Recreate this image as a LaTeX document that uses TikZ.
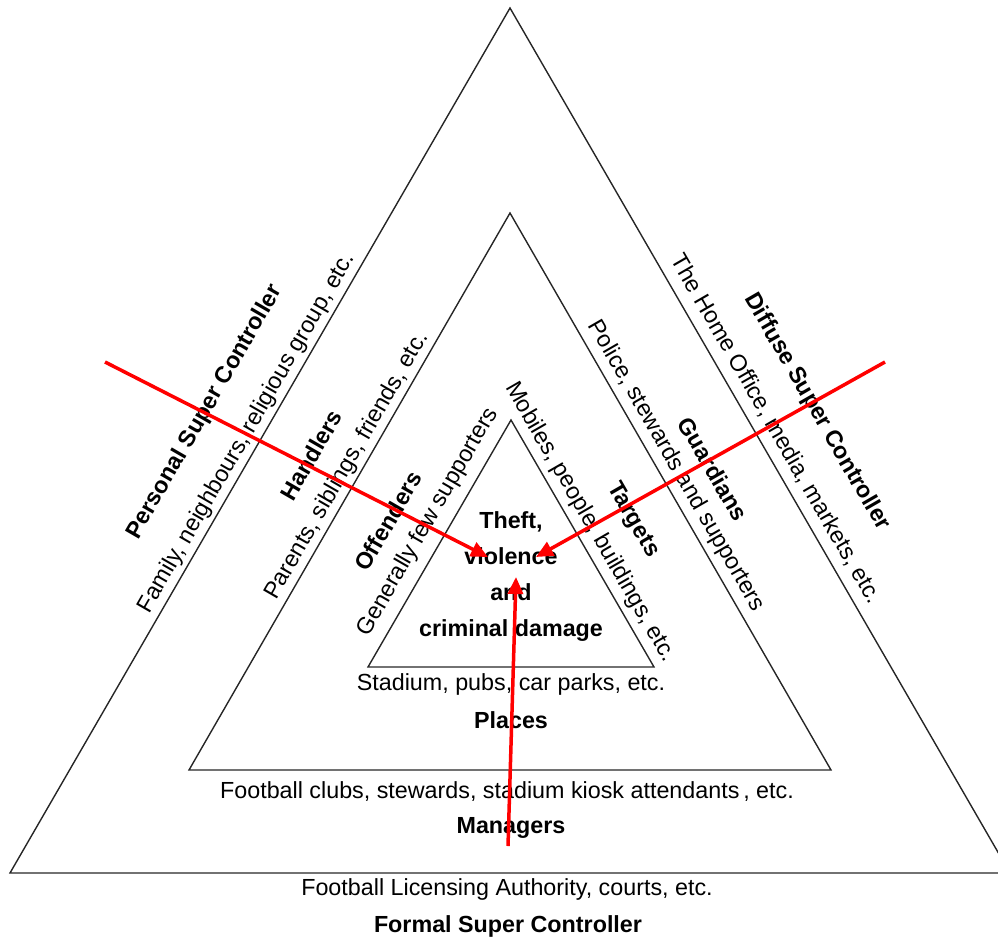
\documentclass[tikz,border=0pt]{standalone}
\usepackage{fontspec}
\setmainfont{Liberation Sans}
\usetikzlibrary{arrows.meta}
\begin{document}
\begin{tikzpicture}[x=1pt,y=-1pt,
  tri/.style={draw=black!85,line width=1.4pt,line join=miter},
  lbl/.style={inner sep=0pt,font=\fontsize{23.3}{27}\selectfont},
  blbl/.style={inner sep=0pt,font=\fontsize{23.3}{27}\selectfont\bfseries},
  redarrow/.style={draw=red,line width=3.5pt,-{Triangle[length=17pt,width=15pt]}}]
\useasboundingbox (0,0) rectangle (998,938);
% triangle corners
\coordinate (oA) at (510,8);
\coordinate (oL) at (10,873);
\coordinate (oR) at (1010,873);
\coordinate (mA) at (510,213);
\coordinate (mL) at (189,770);
\coordinate (mR) at (831,770);
\coordinate (iA) at (511,420);
\coordinate (iL) at (368,667);
\coordinate (iR) at (654,667);
\draw[tri] (oA) -- (oL) -- (oR) -- cycle;
\draw[tri] (mA) -- (mL) -- (mR) -- cycle;
\draw[tri] (iA) -- (iL) -- (iR) -- cycle;
% left side labels
\node[blbl,rotate=60] (psc) at (205,412) {Personal Super Controller};
\node[lbl,rotate=60] (fam) at (247,433) {Family, neighbours, religious group, etc.};
\node[blbl,rotate=60] (han) at (311,455) {Handlers};
\node[lbl,rotate=60] (par) at (347,466) {Parents, siblings, friends, etc.};
\node[blbl,rotate=60] (off) at (388,521) {Offenders};
\node[lbl,rotate=60] (gen) at (428,522) {Generally few supporters};
% right side labels
\node[lbl,rotate=-60] (mob) at (590,522) {Mobiles, people, buildings, etc.};
\node[blbl,rotate=-60] (tar) at (633,520) {Targets};
\node[lbl,rotate=-60] (pol) at (676,466) {Police, stewards and supporters};
\node[blbl,rotate=-60] (gua) at (713,469) {Guardians};
\node[lbl,rotate=-60] (home) at (776,429) {The Home Office, media, markets, etc.};
\node[blbl,rotate=-60] (dsc) at (817,412) {Diffuse Super Controller};
% bottom labels
\node[lbl] (sta) at (511,684) {Stadium, pubs, car parks, etc.};
\node[blbl] (pla) at (511,720) {Places};
\node[lbl] (fc) at (507,792) {Football clubs, stewards, stadium kiosk attendants\,, etc.};
\node[blbl] (man) at (511,828) {Managers};
\node[lbl] (fla) at (507,889) {Football Licensing Authority, courts, etc.};
\node[blbl] (fsc) at (508,926) {Formal Super Controller};
% centre
\node[blbl,align=center,font=\fontsize{23.3}{36}\selectfont\bfseries] (crime) at (511,577) {Theft,\\violence\\and\\criminal damage};
% arrows
\coordinate (s1) at (105,362);
\coordinate (e1) at (488,557);
\coordinate (s2) at (885,362);
\coordinate (e2) at (536,557);
\coordinate (s3) at (508,846);
\coordinate (e3) at (516,577);
\draw[redarrow] (s1) -- (e1);
\draw[redarrow] (s2) -- (e2);
\draw[redarrow] (s3) -- (e3);
\end{tikzpicture}
\end{document}
